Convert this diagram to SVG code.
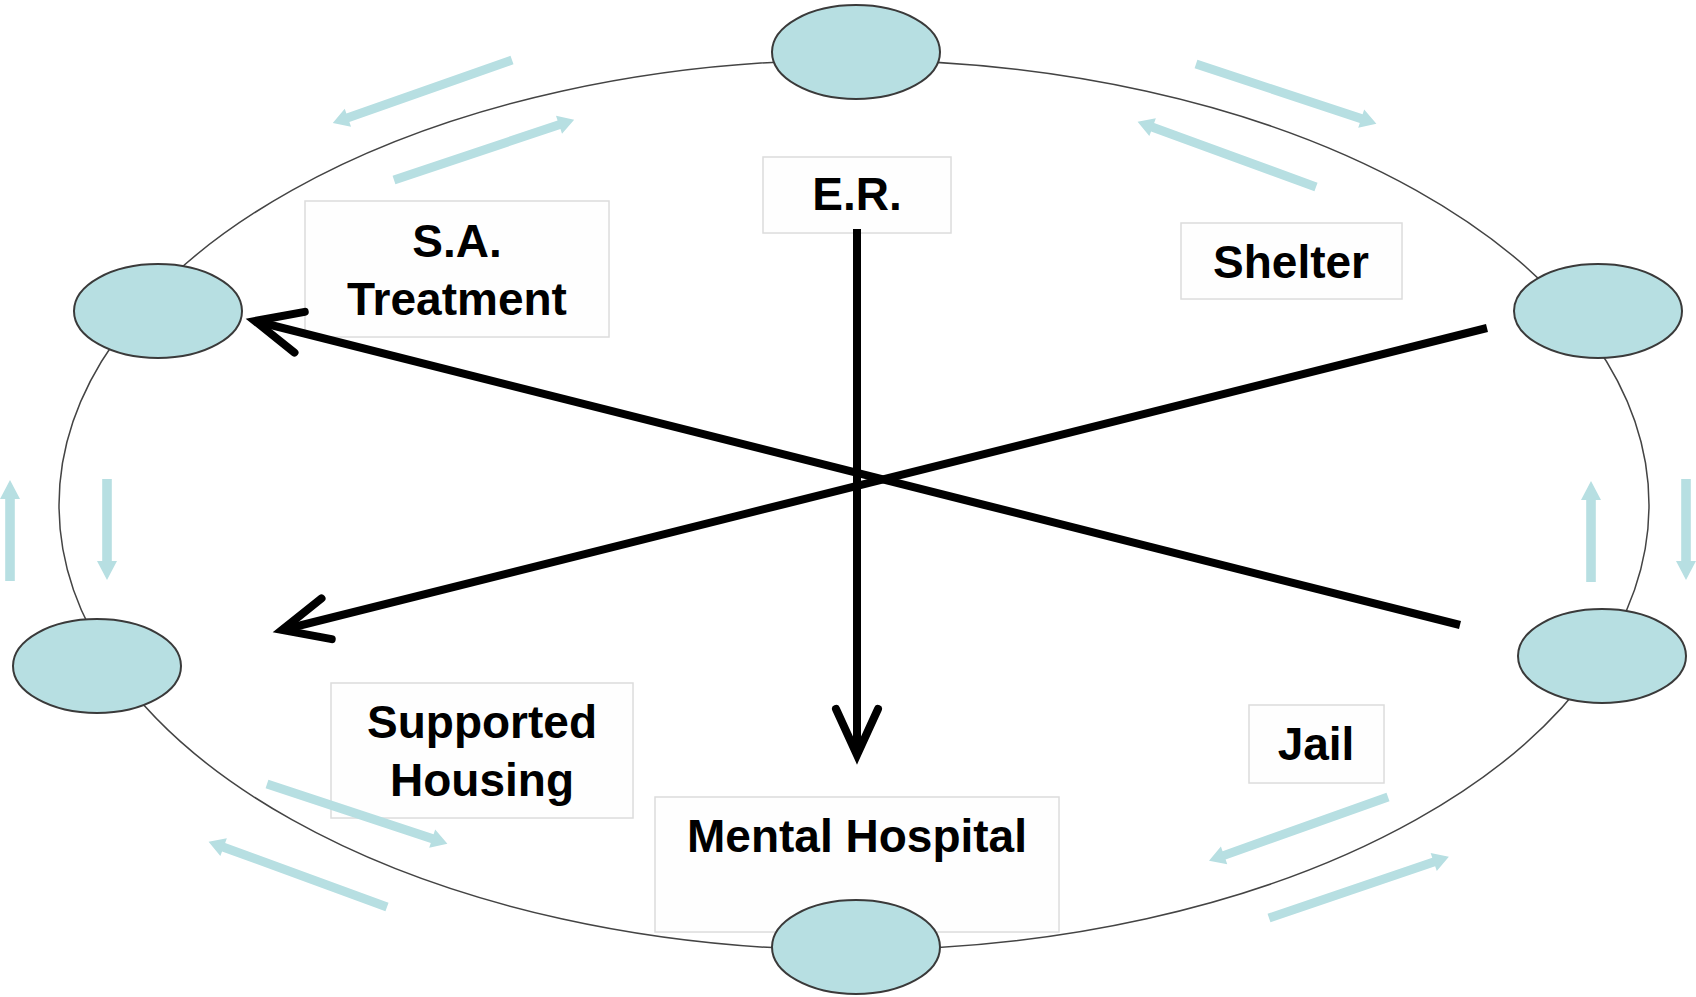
<svg xmlns="http://www.w3.org/2000/svg" xmlns:xlink="http://www.w3.org/1999/xlink" width="1696" height="997" viewBox="0 0 1696 997">
<style>
.ring{fill:none;stroke:#444;stroke-width:1.5}
.node{fill:#b7dfe2;stroke:#3a3a3a;stroke-width:2}
.box{fill:#fefefe;stroke:#dcdcdc;stroke-width:1.5}
.lbl{font-family:"Liberation Sans",Arial,sans-serif;font-weight:bold;font-size:46px;fill:#000;text-anchor:middle}
.conn{fill:none;stroke:#000;stroke-width:8}
.flow{fill:#b7dfe2}
</style>
<defs>
<marker id="open" markerUnits="userSpaceOnUse" orient="auto" refX="0" refY="0" markerWidth="80" markerHeight="80" overflow="visible">
<path d="M-46,-21 L0,0 L-46,21" fill="none" stroke="#000" stroke-width="8" stroke-linecap="round" stroke-linejoin="miter"/>
</marker>
<path id="flowD" d="M0,-4.5 L174,-4.5 L174,-9.5 L190,0 L174,9.5 L174,4.5 L0,4.5 Z"/>
<path id="flowV" d="M0,-4.8 L82,-4.8 L82,-10 L101,0 L82,10 L82,4.8 L0,4.8 Z"/>
</defs>
<rect width="1696" height="997" fill="#fff"/>
<ellipse class="ring" cx="854" cy="505" rx="795" ry="445"/>
<g id="boxes">
<g id="sa-treatment"><rect class="box" x="305" y="201" width="304" height="136"/><text class="lbl" x="457" y="257">S.A.</text><text class="lbl" x="457" y="315">Treatment</text></g>
<g id="er"><rect class="box" x="763" y="157" width="188" height="76"/><text class="lbl" x="857" y="210">E.R.</text></g>
<g id="shelter"><rect class="box" x="1181" y="223" width="221" height="76"/><text class="lbl" x="1291" y="278">Shelter</text></g>
<g id="supported-housing"><rect class="box" x="331" y="683" width="302" height="135"/><text class="lbl" x="482" y="738">Supported</text><text class="lbl" x="482" y="796">Housing</text></g>
<g id="mental-hospital"><rect class="box" x="655" y="797" width="404" height="135"/><text class="lbl" x="857" y="852">Mental Hospital</text></g>
<g id="jail"><rect class="box" x="1249" y="705" width="135" height="78"/><text class="lbl" x="1316" y="760">Jail</text></g>
</g>
<g id="flows" class="flow">
<use xlink:href="#flowD" transform="translate(512,60) rotate(160.6)"/>
<use xlink:href="#flowD" transform="translate(394,180) rotate(-18.5)"/>
<use xlink:href="#flowD" transform="translate(1196,64) rotate(18.3)"/>
<use xlink:href="#flowD" transform="translate(1316,187) rotate(-159.9)"/>
<use xlink:href="#flowD" transform="translate(267,784) rotate(18.3)"/>
<use xlink:href="#flowD" transform="translate(387,907) rotate(-159.9)"/>
<use xlink:href="#flowD" transform="translate(1388,797) rotate(160.4)"/>
<use xlink:href="#flowD" transform="translate(1269,918) rotate(-18.8)"/>
<use xlink:href="#flowV" transform="translate(10,581) rotate(-90)"/>
<use xlink:href="#flowV" transform="translate(107,479) rotate(90)"/>
<use xlink:href="#flowV" transform="translate(1591,582) rotate(-90)"/>
<use xlink:href="#flowV" transform="translate(1686,479) rotate(90)"/>
</g>
<g id="connectors">
<path class="conn" d="M1460,625 L255,321" marker-end="url(#open)"/>
<path class="conn" d="M1487,328 L282,630" marker-end="url(#open)"/>
<path class="conn" d="M857,229 L857,755" marker-end="url(#open)"/>
</g>
<g id="nodes">
<ellipse id="node-top" class="node" cx="856" cy="52" rx="84" ry="47"/>
<ellipse id="node-left-upper" class="node" cx="158" cy="311" rx="84" ry="47"/>
<ellipse id="node-right-upper" class="node" cx="1598" cy="311" rx="84" ry="47"/>
<ellipse id="node-left-lower" class="node" cx="97" cy="666" rx="84" ry="47"/>
<ellipse id="node-right-lower" class="node" cx="1602" cy="656" rx="84" ry="47"/>
<ellipse id="node-bottom" class="node" cx="856" cy="947" rx="84" ry="47"/>
</g>
</svg>
